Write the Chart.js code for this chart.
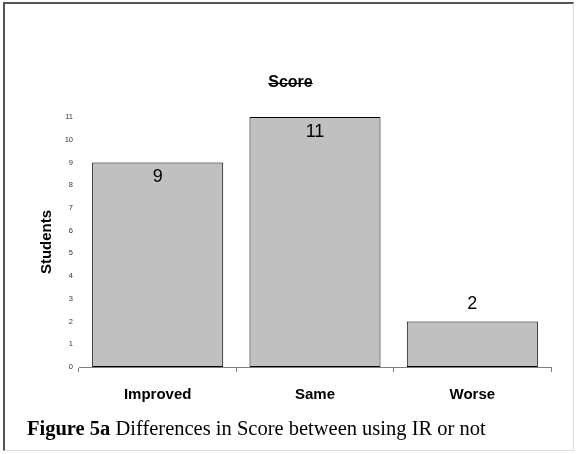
<!DOCTYPE html>
<html>
<head>
<meta charset="utf-8">
<script src="https://cdn.jsdelivr.net/npm/chart.js@4.4.1/dist/chart.umd.min.js"></script>
<style>
  body { margin: 0; background: #fff; }
  #wrap { position: relative; width: 576px; height: 454px; }
  #frame {
    position: absolute; left: 3px; top: 2px; width: 571px; height: 449px;
    border-top: 2px solid #555; border-left: 2px solid #555;
    border-bottom: 1px solid #ddd; border-right: 1px solid #ddd;
    box-sizing: border-box;
  }
  #chart { position: absolute; left: 0; top: 0; }
  #caption {
    position: absolute; left: 27px; top: 417px; white-space: nowrap;
    font-family: "Liberation Serif", "Times New Roman", serif; font-size: 20.5px; color: #000;
  }
</style>
</head>
<body>
<div id="wrap">
  <div id="frame"></div>
  <canvas id="chart" width="576" height="454"></canvas>
  <div id="caption"><b>Figure 5a</b> Differences in Score between using IR or not</div>
</div>
<script>
const categories = ['Improved', 'Same', 'Worse']
const students = [9, 11, 2]
const yTicks = [0, 1, 2, 3, 4, 5, 6, 7, 8, 9, 10, 11]

const sans = '"Liberation Sans", Arial, sans-serif'

// value labels on the bars: inside near the top, or above when the bar is short
const barLabels = {
  id: 'barLabels',
  afterDatasetsDraw(chart) {
    const ctx = chart.ctx
    const meta = chart.getDatasetMeta(0)
    ctx.save()
    ctx.font = '18px ' + sans
    ctx.fillStyle = '#000'
    ctx.textAlign = 'center'
    ctx.textBaseline = 'middle'
    meta.data.forEach((bar, i) => {
      const v = chart.data.datasets[0].data[i]
      const y = v >= 5 ? bar.y + 15 : bar.y - 18
      ctx.fillText(String(v), bar.x, y)
    })
    ctx.restore()
  }
}

// the original title has a line struck through it
const titleStrike = {
  id: 'titleStrike',
  afterDraw(chart) {
    const t = chart.titleBlock
    if (!t) return
    const ctx = chart.ctx
    ctx.save()
    ctx.font = 'bold 16px ' + sans
    const w = ctx.measureText(chart.options.plugins.title.text).width
    const cx = (t.left + t.right) / 2
    const cy = Math.round(t.top + 10) + 0.5
    ctx.strokeStyle = '#000'
    ctx.lineWidth = 1
    ctx.beginPath()
    ctx.moveTo(cx - w / 2, cy)
    ctx.lineTo(cx + w / 2, cy)
    ctx.stroke()
    ctx.restore()
  }
}

const data = {
  labels: categories,
  datasets: [{
    label: 'Students',
    data: students,
    backgroundColor: '#c0c0c0',
    borderColor: '#000',
    borderWidth: 1,
    borderSkipped: false,
    categoryPercentage: 1,
    barPercentage: 0.833
  }]
}

const config = {
  type: 'bar',
  data,
  options: {
    responsive: false,
    animation: false,
    layout: {
      padding: { left: 30, right: 25, top: 73, bottom: 45 }
    },
    plugins: {
      legend: { display: false },
      tooltip: { enabled: false },
      title: {
        display: true,
        text: 'Score',
        color: '#000',
        font: { family: sans, size: 16, weight: 'bold' },
        padding: { top: 0, bottom: 24.8 }
      }
    },
    scales: {
      x: {
        grid: {
          offset: true,
          drawOnChartArea: false,
          drawTicks: true,
          tickLength: 5,
          color: '#808080'
        },
        border: { display: true, color: '#808080', width: 1 },
        ticks: {
          color: '#000',
          padding: 14,
          font: { family: sans, size: 15, weight: 'bold' }
        },
        afterFit(scale) { scale.height = 42 }
      },
      y: {
        min: 0,
        max: 11,
        afterBuildTicks(scale) { scale.ticks = yTicks.map(v => ({ value: v })) },
        grid: { display: false, drawTicks: false },
        border: { display: false },
        ticks: {
          color: '#333',
          padding: 6,
          font: { family: sans, size: 7.5 }
        },
        title: {
          display: true,
          text: 'Students',
          color: '#000',
          font: { family: sans, size: 15, weight: 'bold' },
          padding: { top: 8, bottom: 0 }
        },
        afterFit(scale) { scale.width = 49 }
      }
    }
  },
  plugins: [barLabels, titleStrike]
}

const chartCanvas = document.getElementById('chart').getContext('2d')
const scoreChart = new Chart(chartCanvas, config)
</script>
</body>
</html>
